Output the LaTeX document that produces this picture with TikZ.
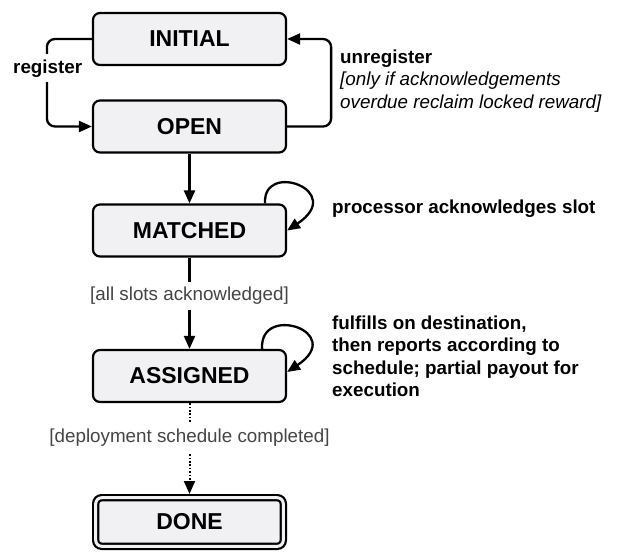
\documentclass[tikz,border=0pt]{standalone}
\usepackage{fontspec}
\setmainfont{Liberation Sans}
\usetikzlibrary{arrows.meta,calc}
\definecolor{boxfill}{HTML}{F1F1F3}
\definecolor{lblgray}{HTML}{454545}
\begin{document}
\begin{tikzpicture}[x=1pt,y=-1pt,
  state/.style={draw=black, line width=2.2pt, fill=boxfill, rounded corners=7pt,
    minimum width=193pt, minimum height=52pt, inner sep=0pt,
    font=\fontsize{23}{27}\selectfont\bfseries},
  conn/.style={line width=2.3pt, -{Triangle[length=13pt,width=11pt]}},
  dotconn/.style={line width=2pt, dash pattern=on 1.6pt off 1.8pt, -{Triangle[length=13pt,width=11pt]}},
  lbl/.style={font=\fontsize{18.8}{22.6}\selectfont, inner sep=0pt},
  guard/.style={lbl, text=lblgray, fill=white, inner ysep=5pt, inner xsep=1pt},
]
\useasboundingbox (0,0) rectangle (618,552);

\node[state] (INITIAL) at (189.5,39) {INITIAL};
\node[state] (OPEN) at (189.5,126.5) {OPEN};
\node[state] (MATCHED) at (189.5,230.5) {MATCHED};
\node[state] (ASSIGNED) at (189.5,376) {ASSIGNED};
\node[state, double=boxfill, double distance=3pt, minimum width=187.6pt,
  minimum height=48.6pt, rounded corners=6pt, outer sep=3.7pt] (DONE) at (189.5,522) {DONE};

% register
\draw[conn, rounded corners=8pt] (INITIAL.west) -- ++(-45,0) |- (OPEN.west);
\node[lbl, font=\fontsize{18.8}{22.6}\selectfont\bfseries, fill=white, inner ysep=5pt, anchor=base west] (reglbl) at (13,73) {register};

% unregister
\draw[conn, rounded corners=8pt] (OPEN.east) -- ++(44,0) |- (INITIAL.east);
\node[lbl, anchor=base west, align=left] (unreglbl) at (340,108.2)
  {\bfseries unregister\\ \itshape [only if acknowledgements\\ \itshape overdue reclaim locked reward]};

% open -> matched
\draw[conn] (OPEN) -- (MATCHED);

% matched self loop
\draw[conn] ([xshift=-22pt]MATCHED.north east) .. controls +(-3,-43) and +(60,-40) .. (MATCHED.east);
\node[lbl, anchor=base west, font=\fontsize{18.8}{22.6}\selectfont\bfseries] (acklbl) at (332,213) {processor acknowledges slot};

% matched -> assigned
\draw[conn] (MATCHED) -- node[guard, pos=0.418] (allslots) {[all slots acknowledged]} (ASSIGNED);

% assigned self loop
\draw[conn] ([xshift=-25pt]ASSIGNED.north east) .. controls +(-3,-46) and +(60,-40) .. ([yshift=4pt]ASSIGNED.east);
\node[lbl, anchor=base west, align=left, font=\fontsize{18.8}{22.6}\selectfont\bfseries] (fulflbl) at (332,396.8)
  {fulfills on destination,\\ then reports according to\\ schedule; partial payout for\\ execution};

% assigned -> done
\draw[dotconn] (ASSIGNED) -- node[guard, pos=0.382] (deplbl) {[deployment schedule completed]} (DONE);
\end{tikzpicture}
\end{document}
